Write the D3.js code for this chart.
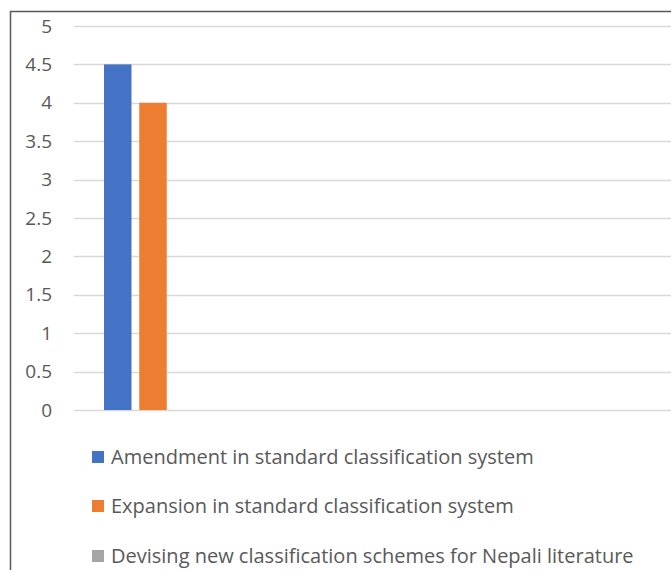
<!DOCTYPE html>
<html>
<head>
<meta charset="utf-8">
<script src="https://cdn.jsdelivr.net/npm/d3@7"></script>
<style>
  html, body { margin: 0; padding: 0; background: #fff; }
  svg { display: block; }
  text { font-family: "Open Sans", "Noto Sans", sans-serif; fill: #595959; }
</style>
</head>
<body>
<svg id="chart" width="671" height="570"></svg>
<script>
// Series names and their scores
const seriesNames = [
  "Amendment in standard classification system",
  "Expansion in standard classification system",
  "Devising new classification schemes for Nepali literature"
];
const seriesValues = [4.5, 4, 0];
const seriesColors = ["#4472C4", "#ED7D31", "#A5A5A5"];
const categories = ["1"];
const yTicks = [0, 0.5, 1, 1.5, 2, 2.5, 3, 3.5, 4, 4.5, 5];

const svg = d3.select("#chart");
const W = 671, H = 570;

// chart frame
svg.append("path")
  .attr("d", `M10.5,${H} V11.5 H${W}`)
  .attr("fill", "none")
  .attr("stroke", "#595959")
  .attr("stroke-width", 1.5);

const plotLeft = 74, plotRight = W, plotTop = 26, plotBottom = 410;

const y = d3.scaleLinear().domain([0, 5]).range([plotBottom, plotTop]);

const x0 = d3.scaleBand().domain(categories).range([104, 202]).padding(0);
const x1 = d3.scaleBand().domain(seriesNames).range([0, x0.bandwidth()]).paddingInner(0.22).paddingOuter(0);

// gridlines
svg.append("g")
  .selectAll("line")
  .data(yTicks)
  .join("line")
  .attr("x1", plotLeft)
  .attr("x2", plotRight)
  .attr("y1", d => Math.round(y(d)) + 0.5)
  .attr("y2", d => Math.round(y(d)) + 0.5)
  .attr("stroke", "#d9d9d9")
  .attr("stroke-width", 1.3);

// y-axis labels
const yAxis = d3.axisLeft(y).tickValues(yTicks).tickSize(0).tickPadding(0)
  .tickFormat(d3.format("~g"));
const gy = svg.append("g").attr("transform", `translate(52,0)`).call(yAxis);
gy.attr("font-size", null).attr("font-family", null);
gy.select(".domain").remove();
gy.selectAll("text")
  .style("font-size", "19px")
  .style("fill", "#595959");

// bars
const rows = seriesNames.map((name, i) => ({ name, value: seriesValues[i], color: seriesColors[i] }));
svg.append("g")
  .selectAll("g")
  .data(categories)
  .join("g")
  .attr("transform", c => `translate(${x0(c)},0)`)
  .selectAll("rect")
  .data(rows)
  .join("rect")
  .attr("x", d => x1(d.name))
  .attr("width", x1.bandwidth())
  .attr("y", d => y(d.value))
  .attr("height", d => y(0) - y(d.value))
  .attr("fill", d => d.color);

// legend
const legendY = [457, 506, 556];
const legend = svg.append("g")
  .selectAll("g")
  .data(rows)
  .join("g")
  .attr("transform", (d, i) => `translate(92,${legendY[i]})`);
legend.append("rect")
  .attr("x", 0).attr("y", -6)
  .attr("width", 12).attr("height", 12)
  .attr("fill", d => d.color);
legend.append("text")
  .attr("x", 19)
  .attr("dy", "0.35em")
  .style("font-size", "20px")
  .text(d => d.name);
</script>
</body>
</html>
